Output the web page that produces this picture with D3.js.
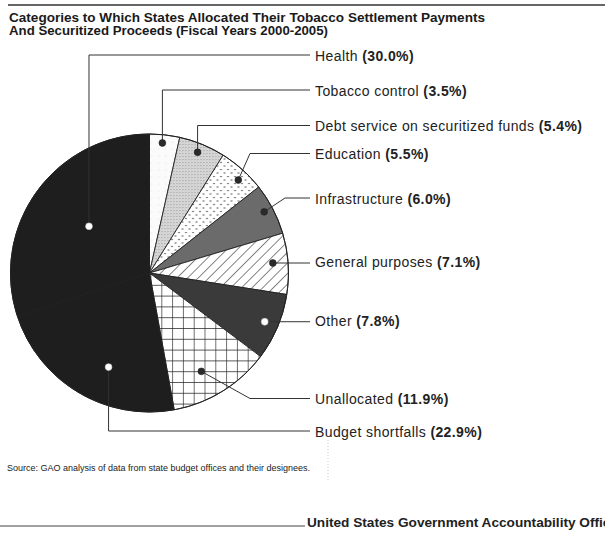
<!DOCTYPE html>
<html>
<head>
<meta charset="utf-8">
<script src="https://cdn.jsdelivr.net/npm/d3@7"></script>
<style>
  html, body { margin: 0; padding: 0; background: #fff; }
  svg { display: block; font-family: "Liberation Sans", Arial, Helvetica, sans-serif; }
</style>
</head>
<body>
<svg id="chart" width="605" height="535"></svg>
<script>
// ---- data (clockwise from 12 o'clock) ----
const categories = ["Tobacco control", "Debt service on securitized funds", "Education",
  "Infrastructure", "General purposes", "Other", "Unallocated", "Budget shortfalls", "Health"];
const values = [3.5, 5.4, 5.5, 6.0, 7.1, 7.8, 11.9, 22.9, 30.0];
const valueLabels = ["(3.5%)", "(5.4%)", "(5.5%)", "(6.0%)", "(7.1%)", "(7.8%)", "(11.9%)", "(22.9%)", "(30.0%)"];
const titleLines = ["Categories to Which States Allocated Their Tobacco Settlement Payments",
  "And Securitized Proceeds (Fiscal Years 2000-2005)"];
const sourceText = "Source: GAO analysis of data from state budget offices and their designees.";
const footerText = "United States Government Accountability Office";

// ---- layout / style (not data) ----
const fills = ["url(#pTob)", "url(#pDebt)", "url(#pEdu)", "#6b6b6b", "url(#pHatch)",
  "#3a3a3a", "url(#pGrid)", "#1e1e1e", "#1e1e1e"];
const dotFill = ["#2a2a2a", "#2a2a2a", "#2a2a2a", "#2a2a2a", "#2a2a2a", "#fff", "#2a2a2a", "#fff", "#fff"];
// [fraction along slice angle, fraction of radius]
const dotPos = [[0.45,0.94],[0.47,0.935],[0.59,0.925],[0.47,0.935],[0.47,0.89],[0.5,0.9],[0.59,0.8],[0.41,0.738],[0.515,0.55]];
// leader type: v = vertical then horizontal, d = diagonal to elbowX then horizontal, h = horizontal
const leaderType = ["v","v","d","d","h","h","d","v","v"];
const leaderY = [90, 125.5, 153.5, 198, null, null, 398.5, 431, 55];
const elbowX = [null, null, 250, 285, null, null, 250, null, null];

const cx = 149.5, cy = 273, R = 139;
const lineEnd = 310, textX = 315;

const svg = d3.select("#chart");
const defs = svg.append("defs");

// patterns
const pTob = defs.append("pattern").attr("id","pTob").attr("patternUnits","userSpaceOnUse")
  .attr("width",7).attr("height",7);
pTob.append("rect").attr("width",7).attr("height",7).attr("fill","#fbfbfb");
pTob.append("circle").attr("cx",2).attr("cy",2).attr("r",0.35).attr("fill","#888");

const pDebt = defs.append("pattern").attr("id","pDebt").attr("patternUnits","userSpaceOnUse")
  .attr("width",3).attr("height",3);
pDebt.append("rect").attr("width",3).attr("height",3).attr("fill","#d8d8d8");
pDebt.append("rect").attr("x",0).attr("y",0).attr("width",1).attr("height",1).attr("fill","#9a9a9a");
pDebt.append("rect").attr("x",2).attr("y",1.5).attr("width",0.8).attr("height",0.8).attr("fill","#b5b5b5");

const pEdu = defs.append("pattern").attr("id","pEdu").attr("patternUnits","userSpaceOnUse")
  .attr("width",7).attr("height",7);
pEdu.append("rect").attr("width",7).attr("height",7).attr("fill","#fff");
pEdu.append("circle").attr("cx",1.5).attr("cy",1.5).attr("r",0.75).attr("fill","#333");
pEdu.append("circle").attr("cx",5).attr("cy",5).attr("r",0.75).attr("fill","#333");

const pHatch = defs.append("pattern").attr("id","pHatch").attr("patternUnits","userSpaceOnUse")
  .attr("width",7.5).attr("height",7.5).attr("patternTransform","rotate(45)");
pHatch.append("rect").attr("width",7.5).attr("height",7.5).attr("fill","#fff");
pHatch.append("line").attr("x1",0).attr("y1",0).attr("x2",0).attr("y2",7.5)
  .attr("stroke","#222").attr("stroke-width",1.1);

const pGrid = defs.append("pattern").attr("id","pGrid").attr("patternUnits","userSpaceOnUse")
  .attr("x",1).attr("y",1).attr("width",10.8).attr("height",10.8);
pGrid.append("rect").attr("width",10.8).attr("height",10.8).attr("fill","#fff");
pGrid.append("path").attr("d","M0,0H10.8M0,0V10.8").attr("stroke","#222").attr("stroke-width",1.3).attr("fill","none");

// top rule and title
svg.append("line").attr("x1",8).attr("x2",605).attr("y1",5).attr("y2",5)
  .attr("stroke","#333").attr("stroke-width",1.5);
const titleW = [476, 319];
svg.selectAll("text.title").data(titleLines).join("text")
  .attr("class","title").attr("x",9).attr("y",(d,i)=>21.5 + i*13.5)
  .attr("font-size",12.5).attr("font-weight","bold").attr("fill","#1a1a1a")
  .attr("textLength",(d,i)=>titleW[i]).attr("lengthAdjust","spacingAndGlyphs")
  .text(d=>d);

// pie
const pie = d3.pie().sort(null).value(d=>d)(values);
const arc = d3.arc().innerRadius(0).outerRadius(R);
const g = svg.append("g").attr("transform",`translate(${cx},${cy})`);
g.selectAll("path.slice").data(pie).join("path")
  .attr("class","slice").attr("d",arc)
  .attr("fill",(d,i)=>fills[i])
  .attr("stroke",(d,i)=> i===8 ? "#1e1e1e" : "#222")
  .attr("stroke-width",0.9).attr("stroke-linejoin","round");
g.append("circle").attr("r",R).attr("fill","none").attr("stroke","#222").attr("stroke-width",1);

// dots & leaders
const dots = pie.map((d,i)=>{
  const a = d.startAngle + (d.endAngle - d.startAngle)*dotPos[i][0];
  const r = R*dotPos[i][1];
  return {x: cx + r*Math.sin(a), y: cy - r*Math.cos(a)};
});
const lines = svg.append("g");
dots.forEach((p,i)=>{
  let pts;
  const t = leaderType[i];
  if (t === "v") pts = [[p.x,p.y],[p.x,leaderY[i]],[lineEnd,leaderY[i]]];
  else if (t === "d") pts = [[p.x,p.y],[elbowX[i],leaderY[i]],[lineEnd,leaderY[i]]];
  else pts = [[p.x,p.y],[lineEnd,p.y]];
  lines.append("path").attr("d",d3.line()(pts)).attr("fill","none")
    .attr("stroke","#333").attr("stroke-width",1);
});
svg.append("g").selectAll("circle").data(dots).join("circle")
  .attr("cx",d=>d.x).attr("cy",d=>d.y).attr("r",3.4)
  .attr("fill",(d,i)=>dotFill[i]).attr("stroke",(d,i)=>dotFill[i]==="#fff"?"#ccc":"#222").attr("stroke-width",0.6);

// labels
const lab = svg.append("g").selectAll("text").data(categories).join("text")
  .attr("x",textX)
  .attr("y",(d,i)=> leaderType[i]==="h" ? dots[i].y - 1 : leaderY[i] + 1)
  .attr("dy","0.35em").attr("font-size",14).attr("letter-spacing",0.4).attr("fill","#222");
lab.append("tspan").text(d=>d + " ");
lab.append("tspan").attr("font-weight","bold").text((d,i)=>valueLabels[i]);

// source
svg.append("text").attr("x",7).attr("y",471).attr("font-size",9).attr("fill","#222")
  .attr("textLength",303).attr("lengthAdjust","spacingAndGlyphs")
  .text(sourceText);
svg.append("line").attr("x1",328).attr("x2",328).attr("y1",440).attr("y2",482)
  .attr("stroke","#bbb").attr("stroke-width",0.8).attr("stroke-dasharray","1,2");

// footer (cut off at the right edge, as in the reference)
svg.append("line").attr("x1",0).attr("x2",305).attr("y1",526).attr("y2",526)
  .attr("stroke","#444").attr("stroke-width",1);
svg.append("text").attr("x",307).attr("y",527).attr("font-size",13.5).attr("font-weight","bold")
  .attr("fill","#222").attr("textLength",311).attr("lengthAdjust","spacingAndGlyphs")
  .text(footerText);
</script>
</body>
</html>
